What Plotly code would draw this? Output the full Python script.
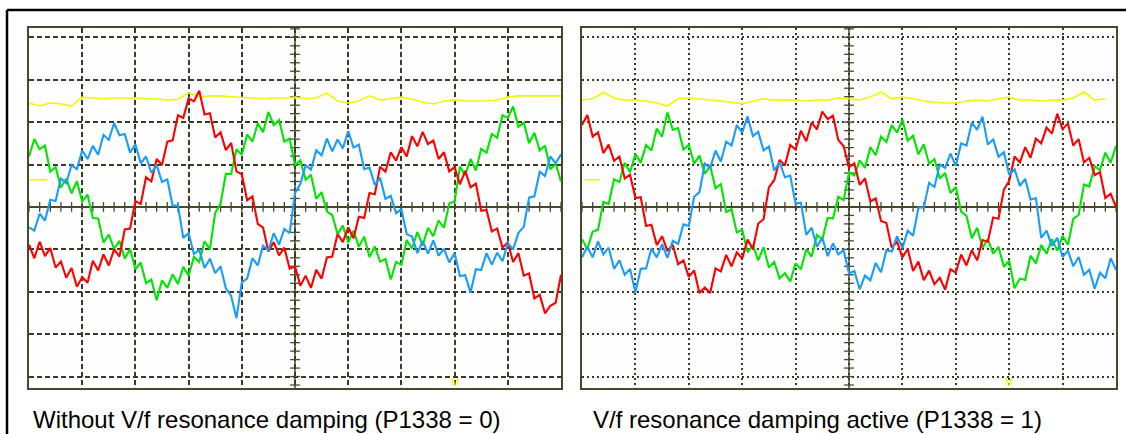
import numpy as np
import plotly.graph_objects as go

# Oscilloscope captures, values in screen divisions (10 x 8 div graticule)
# Sample grid: 0.1 div for the phase currents, 0.2 div for the DC trace
t_fine = np.round(np.arange(0, 10.001, 0.1), 2)
t_coarse = np.round(np.arange(0, 10.001, 0.2), 2)

# --- Left capture: without V/f resonance damping (P1338 = 0)
left_red = [-0.89, -1.21, -0.82, -1.16, -0.97, -1.43, -1.29, -1.67, -1.44, -1.88,
            -1.66, -1.79, -1.27, -1.50, -1.12, -1.38, -1.00, -1.17, -0.53, -0.51,
            0.14, 0.07, 0.70, 0.60, 1.13, 0.99, 1.54, 1.57, 2.16, 2.10,
            2.56, 2.49, 2.74, 2.18, 2.21, 1.64, 1.76, 1.34, 1.51, 0.84,
            0.77, 0.16, 0.25, -0.40, -0.49, -1.05, -0.83, -1.14, -0.96, -1.46,
            -1.40, -1.86, -1.62, -1.91, -1.48, -1.69, -1.19, -1.17, -0.64, -0.83,
            -0.48, -0.74, -0.23, -0.26, 0.33, 0.30, 0.95, 0.83, 1.29, 1.09,
            1.41, 1.19, 1.67, 1.43, 1.77, 1.48, 1.57, 1.13, 1.29, 0.84,
            0.94, 0.53, 0.85, 0.46, 0.55, -0.09, -0.07, -0.58, -0.51, -0.96,
            -0.84, -1.30, -1.09, -1.62, -1.57, -2.16, -2.07, -2.51, -2.33, -2.26,
            -1.60]
left_green = [1.19, 1.60, 1.36, 1.45, 0.83, 0.94, 0.46, 0.67, 0.32, 0.61,
              0.13, 0.29, -0.26, -0.27, -0.84, -0.65, -0.99, -0.80, -1.22, -0.99,
              -1.47, -1.31, -1.80, -1.71, -2.20, -1.73, -1.91, -1.59, -1.82, -1.41,
              -1.62, -1.18, -1.30, -0.81, -1.00, -0.14, 0.07, 0.78, 0.78, 1.36,
              1.23, 1.71, 1.54, 1.97, 1.76, 2.24, 1.93, 2.05, 1.54, 1.61,
              0.98, 1.10, 0.64, 0.76, 0.19, 0.35, -0.11, -0.19, -0.64, -0.44,
              -0.84, -0.56, -0.94, -0.70, -1.18, -0.93, -1.29, -1.23, -1.71, -1.30,
              -1.36, -0.78, -0.98, -0.59, -0.91, -0.49, -0.69, -0.32, -0.49, 0.08,
              0.13, 0.95, 0.75, 1.13, 0.86, 1.37, 1.28, 1.72, 1.63, 2.16,
              2.10, 2.37, 1.89, 1.99, 1.50, 1.75, 1.33, 1.45, 0.89, 1.02,
              0.60]
left_blue = [-0.48, -0.56, -0.16, -0.32, 0.17, 0.14, 0.67, 0.56, 0.99, 0.89,
             1.33, 1.13, 1.44, 1.23, 1.70, 1.58, 1.98, 1.69, 1.72, 1.28,
             1.48, 1.03, 1.19, 0.80, 0.99, 0.59, 0.65, 0.03, 0.03, -0.73,
             -0.62, -1.11, -1.01, -1.44, -1.22, -1.56, -1.40, -1.92, -2.10, -2.62,
             -1.78, -1.69, -1.21, -1.38, -0.91, -1.02, -0.62, -0.89, -0.52, -0.62,
             0.33, 0.54, 0.98, 0.88, 1.34, 1.22, 1.61, 1.31, 1.59, 1.38,
             1.79, 1.40, 1.47, 0.89, 0.93, 0.52, 0.69, 0.19, 0.26, -0.15,
             -0.05, -0.64, -0.70, -1.09, -0.81, -1.10, -0.79, -1.15, -0.99, -1.31,
             -1.09, -1.63, -1.61, -2.02, -1.47, -1.49, -1.09, -1.36, -1.08, -1.28,
             -0.86, -1.00, -0.61, -0.47, 0.22, 0.25, 0.83, 0.73, 1.19, 1.03,
             1.24]
left_yellow = [2.45, 2.38, 2.45, 2.43, 2.38, 2.59, 2.57, 2.55, 2.57, 2.57,
               2.57, 2.55, 2.55, 2.52, 2.54, 2.69, 2.59, 2.62, 2.62, 2.60,
               2.59, 2.57, 2.55, 2.57, 2.57, 2.59, 2.55, 2.57, 2.69, 2.50,
               2.45, 2.50, 2.62, 2.52, 2.55, 2.59, 2.54, 2.47, 2.43, 2.50,
               2.52, 2.50, 2.50, 2.50, 2.52, 2.59, 2.62, 2.62, 2.62, 2.62,
               2.62]

# --- Right capture: V/f resonance damping active (P1338 = 1)
right_red = [1.93, 2.17, 1.66, 1.76, 1.27, 1.47, 1.09, 1.19, 0.67, 0.76,
             0.21, 0.23, -0.45, -0.42, -0.90, -0.69, -1.04, -0.89, -1.35, -1.26,
             -1.65, -1.50, -2.03, -1.90, -2.03, -1.45, -1.52, -1.13, -1.40, -1.07,
             -1.22, -0.77, -0.99, -0.39, -0.29, 0.46, 0.63, 1.11, 0.98, 1.46,
             1.35, 1.80, 1.55, 1.99, 1.83, 2.25, 2.07, 2.15, 1.58, 1.43,
             0.93, 1.03, 0.52, 0.67, 0.13, 0.20, -0.33, -0.38, -0.96, -0.82,
             -1.19, -0.99, -1.51, -1.29, -1.73, -1.50, -1.82, -1.67, -1.95, -1.47,
             -1.55, -1.12, -1.38, -1.02, -1.26, -0.78, -0.82, -0.25, -0.28, 0.41,
             0.61, 1.19, 1.05, 1.41, 1.16, 1.61, 1.50, 1.87, 1.73, 2.20,
             1.83, 1.97, 1.45, 1.60, 1.05, 1.16, 0.75, 0.82, 0.21, 0.31,
             0.00]
right_green = [-0.76, -0.99, -0.58, -0.54, 0.12, 0.07, 0.65, 0.59, 1.04, 0.82,
               1.25, 1.04, 1.46, 1.33, 1.85, 1.66, 2.23, 1.82, 1.86, 1.35,
               1.47, 1.02, 1.21, 0.78, 0.97, 0.44, 0.54, -0.12, -0.06, -0.60,
               -0.54, -1.07, -0.90, -1.26, -0.95, -1.43, -1.30, -1.69, -1.56, -1.76,
               -1.33, -1.47, -1.00, -1.17, -0.66, -0.77, -0.26, -0.27, 0.24, 0.16,
               0.81, 0.74, 1.10, 0.92, 1.41, 1.22, 1.66, 1.53, 1.93, 1.75,
               2.06, 1.56, 1.68, 1.24, 1.48, 1.02, 1.13, 0.67, 0.80, 0.33,
               0.47, -0.11, -0.21, -0.74, -0.49, -0.96, -0.76, -1.10, -0.94, -1.41,
               -1.27, -1.92, -1.69, -1.72, -1.15, -1.33, -0.90, -1.10, -0.76, -1.03,
               -0.68, -0.89, -0.28, -0.19, 0.53, 0.48, 0.96, 0.87, 1.28, 1.04,
               1.44]
right_blue = [-1.19, -0.94, -1.19, -0.81, -1.12, -0.96, -1.46, -1.26, -1.60, -1.46,
              -2.02, -1.46, -1.45, -0.98, -1.19, -0.88, -1.20, -0.80, -0.87, -0.41,
              -0.45, 0.24, 0.35, 1.02, 0.92, 1.33, 1.07, 1.54, 1.45, 1.93,
              1.75, 2.14, 1.67, 1.77, 1.33, 1.43, 0.86, 1.05, 0.70, 0.74,
              0.08, 0.10, -0.66, -0.49, -0.94, -0.73, -1.16, -0.86, -1.12, -1.02,
              -1.57, -1.51, -1.94, -1.62, -1.73, -1.32, -1.54, -1.02, -1.05, -0.69,
              -0.97, -0.56, -0.68, -0.02, -0.01, 0.57, 0.47, 1.00, 0.92, 1.26,
              0.97, 1.50, 1.45, 1.99, 1.82, 2.13, 1.47, 1.59, 1.18, 1.29,
              0.76, 0.89, 0.50, 0.66, 0.17, 0.21, -0.73, -0.56, -0.92, -0.73,
              -1.18, -1.03, -1.40, -1.18, -1.60, -1.48, -1.93, -1.55, -1.68, -1.21,
              -1.48]
right_yellow = [2.52, 2.55, 2.70, 2.57, 2.52, 2.52, 2.50, 2.45, 2.38, 2.55,
                2.57, 2.55, 2.52, 2.50, 2.47, 2.43, 2.50, 2.55, 2.52, 2.52,
                2.52, 2.50, 2.52, 2.52, 2.57, 2.55, 2.52, 2.59, 2.71, 2.55,
                2.59, 2.55, 2.50, 2.47, 2.45, 2.45, 2.50, 2.52, 2.50, 2.55,
                2.59, 2.52, 2.52, 2.50, 2.52, 2.52, 2.57, 2.71, 2.52, 2.55]

# channel reference marker (yellow dash at left edge) and trigger mark "M"
ref_marker_y = 0.64
trigger_x = 8.0

captions = ["Without V/f resonance damping (P1338 = 0)",
            "V/f resonance damping active (P1338 = 1)"]

RED, GREEN, BLUE, YELLOW = "#ff0000", "#00e600", "#1a9cff", "#f5f500"
FRAME = "#48482a"
GRID = "#3a3a26"

W, H = 1126, 434
def px_x(p): return p / W
def px_y(p): return (H - p) / H

panels = [
    dict(x="x", y="y", dom=[px_x(29), px_x(561)], dash="5px,3px",
         red=left_red, green=left_green, blue=left_blue, yellow=left_yellow,
         ref=[0.02, 0.34], cap_x=px_x(31), caption=captions[0]),
    dict(x="x2", y="y2", dom=[px_x(582), px_x(1116)], dash="2px,3px",
         red=right_red, green=right_green, blue=right_blue, yellow=right_yellow,
         ref=[0.05, 0.34], cap_x=px_x(591), caption=captions[1]),
]

fig = go.Figure()
grat_x = np.round(np.arange(0, 10.001, 0.2), 2)
grat_y = np.round(np.arange(-4.2, 4.201, 0.2), 2)

for p in panels:
    xa, ya = p["x"], p["y"]
    # graticule minor ticks on the centre axes
    fig.add_trace(go.Scatter(x=grat_x, y=[0] * len(grat_x), xaxis=xa, yaxis=ya,
                             mode="markers", hoverinfo="skip",
                             marker=dict(symbol="line-ns", size=7,
                                         line=dict(width=1.3, color=FRAME))))
    fig.add_trace(go.Scatter(x=[5] * len(grat_y), y=grat_y, xaxis=xa, yaxis=ya,
                             mode="markers", hoverinfo="skip",
                             marker=dict(symbol="line-ew", size=7,
                                         line=dict(width=1.3, color=FRAME))))
    # DC link trace
    fig.add_trace(go.Scatter(x=t_coarse[:len(p["yellow"])], y=p["yellow"],
                             xaxis=xa, yaxis=ya, mode="lines",
                             line=dict(color=YELLOW, width=1.6)))
    fig.add_trace(go.Scatter(x=p["ref"], y=[ref_marker_y] * 2, xaxis=xa, yaxis=ya,
                             mode="lines", line=dict(color=YELLOW, width=1.6)))
    # phase currents
    for key, col in (("green", GREEN), ("red", RED), ("blue", BLUE)):
        fig.add_trace(go.Scatter(x=t_fine, y=p[key], xaxis=xa, yaxis=ya,
                                 mode="lines", line=dict(color=col, width=2.1)))
    # centre vertical axis line
    fig.add_shape(type="line", xref=xa, yref=f"{ya} domain", x0=5, x1=5, y0=0, y1=1,
                  line=dict(color=FRAME, width=1.5), layer="below")
    fig.add_annotation(x=trigger_x, y=-4.15, xref=xa, yref=ya, text="M",
                       showarrow=False, font=dict(family="Arial", size=10, color=YELLOW))
    fig.add_annotation(x=p["cap_x"], y=px_y(419), xref="paper", yref="paper",
                       text=p["caption"], showarrow=False,
                       xanchor="left", yanchor="middle",
                       font=dict(family="Arial", size=24, color="#000000"))

axis_x = dict(range=[0, 10], dtick=1, tick0=0, showgrid=True, gridcolor=GRID,
              gridwidth=1.5, showline=True, linecolor=FRAME, linewidth=2,
              mirror=True, showticklabels=False, ticks="", zeroline=False)
axis_y = dict(range=[-4.27, 4.22], dtick=1, tick0=0, showgrid=True, gridcolor=GRID,
              gridwidth=1.5, showline=True, linecolor=FRAME, linewidth=2,
              mirror=True, showticklabels=False, ticks="", zeroline=True,
              zerolinecolor=FRAME, zerolinewidth=1.6,
              domain=[px_y(388), px_y(28)])

fig.update_layout(
    width=W, height=H,
    margin=dict(l=0, r=0, t=0, b=0),
    paper_bgcolor="white", plot_bgcolor="#fefefe",
    showlegend=False,
    xaxis=dict(axis_x, domain=panels[0]["dom"], griddash=panels[0]["dash"]),
    xaxis2=dict(axis_x, domain=panels[1]["dom"], griddash=panels[1]["dash"], anchor="y2"),
    yaxis=dict(axis_y, griddash=panels[0]["dash"], anchor="x"),
    yaxis2=dict(axis_y, griddash=panels[1]["dash"], anchor="x2"),
)

# outer figure border (top and left edge)
fig.add_shape(type="line", xref="paper", yref="paper", x0=px_x(7), x1=1,
              y0=px_y(10), y1=px_y(10), line=dict(color="black", width=2.5))
fig.add_shape(type="line", xref="paper", yref="paper", x0=px_x(7), x1=px_x(7),
              y0=0, y1=px_y(10), line=dict(color="black", width=2.5))

# drop the default page margin so the figure sits at the window origin
fig.write_html("out.html", config={"displayModeBar": False},
               post_script="document.body.style.margin='0';")
